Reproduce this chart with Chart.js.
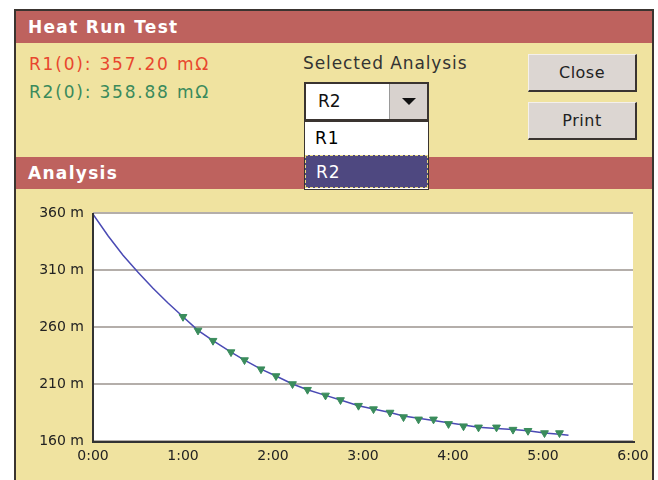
<!DOCTYPE html>
<html>
<head>
<meta charset="utf-8">
<script src="https://cdn.jsdelivr.net/npm/chart.js@4"></script>
<style>
  html, body { margin:0; padding:0; background:#fff; width:658px; height:480px; overflow:hidden; }
  body { position:relative; font-family:"DejaVu Sans", sans-serif; }
  #frame { position:absolute; left:14px; top:9px; width:636px; height:480px; background:#f0e3a0;
           border:2px solid #3a3430; border-bottom:none; }
  .bar { position:absolute; left:0; width:636px; height:32px; background:#be625e; color:#fff;
         font-weight:bold; font-size:17px; letter-spacing:1.3px; line-height:32px; padding-left:12px; box-sizing:border-box; }
  .lbl { position:absolute; font-size:17px; }
  .btn { position:absolute; width:109px; height:38px; background:#dcd6d2; box-sizing:border-box;
         border:1px solid #f4f0ec; border-right:2px solid #3a3430; border-bottom:2px solid #3a3430;
         font-size:16px; letter-spacing:0.5px; text-align:center; line-height:35px; color:#222; }
  #combo { position:absolute; left:288px; top:71px; width:125px; height:39px; background:#fff;
           border:2px solid #3a3430; box-sizing:border-box; }
  #combo .txt { position:absolute; left:12px; top:0; line-height:35px; font-size:17px; color:#111; }
  #combo .arr { position:absolute; right:0; top:0; width:37px; height:35px; background:#d8d2ce;
                border-left:1px solid #999; }
  #combo .arr:after { content:""; position:absolute; left:12px; top:14px; border-left:7px solid transparent;
                      border-right:7px solid transparent; border-top:7px solid #111; }
  #list { position:absolute; left:288px; top:110px; width:125px; height:69px; background:#fff;
          border:1px solid #3a3430; box-sizing:border-box; z-index:5; }
  #list div { height:33px; line-height:33px; padding-left:10px; font-size:17px; letter-spacing:1px; box-sizing:border-box; }
  #list .sel { background:#4e4880; color:#fff; border:1px dashed #e8d880; }
  #chartBox { position:absolute; left:0; top:178px; width:636px; height:291px; }
</style>
</head>
<body>
<div id="frame">
  <div class="bar" style="top:0">Heat Run Test</div>
  <div class="lbl" style="left:13px;top:43px;color:#e8472e;letter-spacing:1.8px">R1(0): 357.20 mΩ</div>
  <div class="lbl" style="left:13px;top:71px;color:#3a8a5c;letter-spacing:1.8px">R2(0): 358.88 mΩ</div>
  <div class="lbl" style="left:287px;top:42px;color:#333;letter-spacing:0.9px">Selected Analysis</div>
  <div id="combo"><span class="txt">R2</span><span class="arr"></span></div>
  <div class="btn" style="left:512px;top:43px">Close</div>
  <div class="btn" style="left:512px;top:91px">Print</div>
  <div class="bar" style="top:146px">Analysis</div>
  <div id="list"><div>R1</div><div class="sel">R2</div></div>
  <div id="chartBox"><canvas id="c"></canvas></div>
</div>
<script>
// R2 resistance trace (minutes, mOhm)
const lineTimes  = [0, 10, 20, 30, 40, 50, 60, 70, 80, 92, 101, 112, 122, 133, 143, 155, 165, 177, 187, 198,
                    207, 217, 227, 237, 247, 257, 269, 280, 290, 301, 311, 317];
const lineValues = [358.9, 340, 323, 308, 294, 281, 269, 257, 248, 238, 231, 223, 217, 210, 205, 200, 196, 191,
                    188, 185, 182, 180, 178, 176, 174, 172, 171, 170, 169, 167, 166, 165];
// measured points (green markers)
const markTimes  = [60, 70, 80, 92, 101, 112, 122, 133, 143, 155, 165, 177, 187, 198, 207, 217, 227, 237,
                    247, 257, 269, 280, 290, 301, 311];
const markValues = [269, 257, 248, 238, 231, 223, 217, 210, 205, 200, 196, 191, 188, 185, 181, 179, 179, 175,
                    173, 172, 172, 170, 169, 167, 167];
const yTicks = [160, 210, 260, 310, 360];
const xTicks = [0, 60, 120, 180, 240, 300, 360];

const toXY = (ts, vs) => ts.map((t, i) => ({ x: t, y: vs[i] }));

const whiteArea = {
  id: 'whiteArea',
  beforeDraw(chart){
    const a = chart.chartArea, ctx = chart.ctx;
    ctx.save(); ctx.fillStyle = '#fff';
    ctx.fillRect(a.left, a.top, a.right - a.left, a.bottom - a.top);
    ctx.restore();
  },
  afterDraw(chart){
    // axis lines
    const a = chart.chartArea, ctx = chart.ctx;
    ctx.save(); ctx.strokeStyle = '#333'; ctx.lineWidth = 2;
    ctx.beginPath(); ctx.moveTo(a.left, a.top); ctx.lineTo(a.left, a.bottom + 1); ctx.lineTo(a.right + 2, a.bottom + 1); ctx.stroke();
    ctx.restore();
  }
};

new Chart(document.getElementById('c'), {
  type: 'scatter',
  data: {
    datasets: [{
      data: toXY(lineTimes, lineValues),
      showLine: true, borderColor: '#4a4ab4', borderWidth: 1.5, pointRadius: 0, order: 2
    }, {
      data: toXY(markTimes, markValues),
      showLine: false, pointStyle: 'triangle', rotation: 180, pointRadius: 4.5,
      backgroundColor: '#3a8c5c', borderColor: '#3a8c5c', borderWidth: 1, order: 1
    }]
  },
  options: {
    responsive: true, maintainAspectRatio: false, animation: false,
    layout: { padding: { top: 24, right: 19, left: 10, bottom: 0 } },
    plugins: { legend: { display: false }, tooltip: { enabled: false } },
    scales: {
      x: {
        type: 'linear', min: 0, max: 360,
        afterBuildTicks: s => { s.ticks = xTicks.map(v => ({ value: v })); },
        afterFit: s => { s.height = 39; s.paddingLeft = 0; s.paddingRight = 0; },
        grid: { display: false, drawTicks: false },
        border: { display: false },
        ticks: { color: '#222', font: { family: 'DejaVu Sans', size: 14 }, padding: 7,
                 callback: v => (v / 60) + ':00' }
      },
      y: {
        min: 160, max: 360,
        afterBuildTicks: s => { s.ticks = yTicks.map(v => ({ value: v })); },
        afterFit: s => { s.width = 67; s.paddingTop = 0; s.paddingBottom = 0; },
        grid: { color: '#b4aeaa', lineWidth: 2, drawTicks: false },
        border: { display: false },
        ticks: { color: '#222', font: { family: 'DejaVu Sans', size: 14 }, padding: 9,
                 callback: v => v + ' m' }
      }
    }
  },
  plugins: [whiteArea]
});
</script>
</body>
</html>
